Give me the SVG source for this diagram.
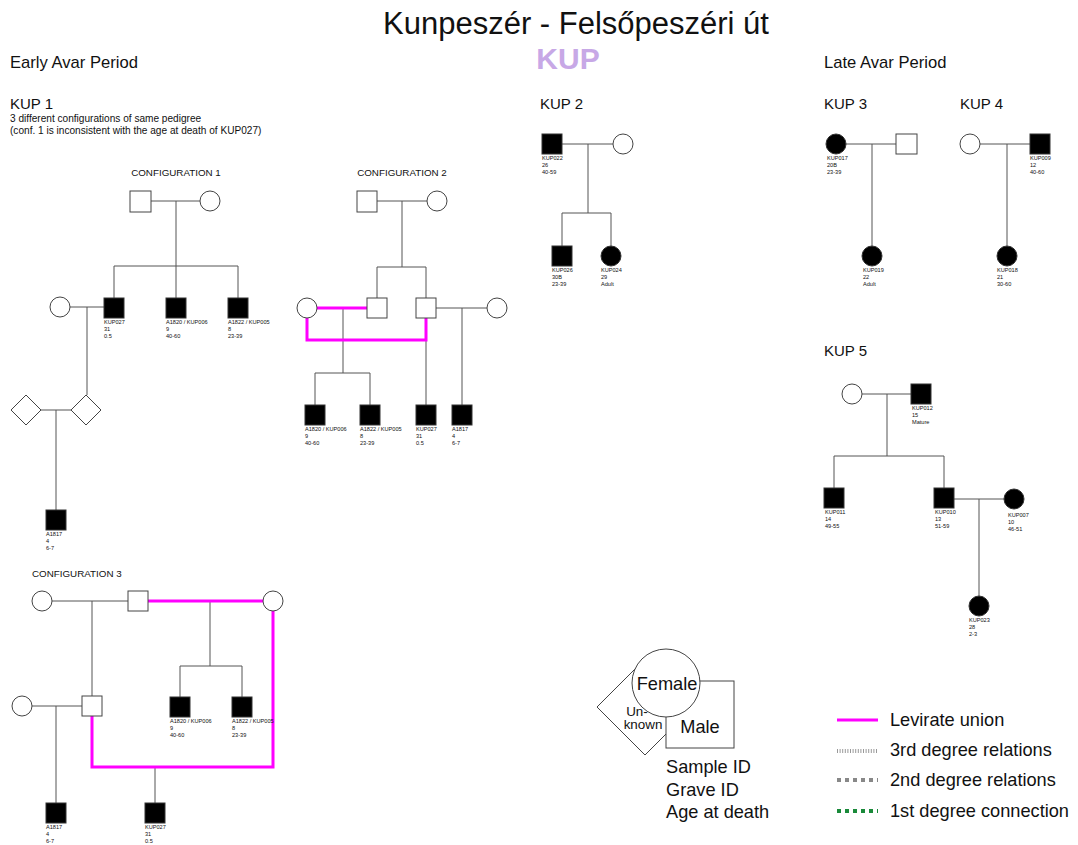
<svg xmlns="http://www.w3.org/2000/svg" width="1078" height="845" viewBox="0 0 1078 845">
<style>
text{font-family:"Liberation Sans",Arial,sans-serif;fill:#111}
.t{font-size:31px}
.kup{font-size:30px;font-weight:bold;fill:#c7a8e6}
.h{font-size:16.6px}
.s{font-size:15px}
.n{font-size:10.1px}
.c{font-size:9.8px}
.l{font-size:5.6px}
.lg{font-size:18.2px}
.lu{font-size:13.4px}
.ln{stroke:#555;stroke-width:1;fill:none}
.lev{stroke:#f0f;stroke-width:3;fill:none}
.o{fill:#fff;stroke:#444;stroke-width:1}
.f{fill:#000;stroke:#333;stroke-width:1}
</style>
<rect width="1078" height="845" fill="#fff"/>
<text class="t" x="576" y="34" text-anchor="middle">Kunpeszér - Felsőpeszéri út</text>
<text class="kup" x="568" y="69" text-anchor="middle">KUP</text>
<text class="h" x="10" y="68">Early Avar Period</text>
<text class="h" x="824" y="68">Late Avar Period</text>
<text class="s" x="10" y="109">KUP 1</text>
<text class="n" x="10" y="122">3 different configurations of same pedigree</text>
<text class="n" x="10" y="134">(conf. 1 is inconsistent with the age at death of KUP027)</text>
<text class="s" x="540" y="109">KUP 2</text>
<text class="s" x="824" y="109">KUP 3</text>
<text class="s" x="960" y="109">KUP 4</text>
<text class="s" x="824" y="356">KUP 5</text>
<text class="c" x="176" y="176" text-anchor="middle">CONFIGURATION 1</text>
<text class="c" x="402" y="176" text-anchor="middle">CONFIGURATION 2</text>
<text class="c" x="32" y="577">CONFIGURATION 3</text>

<g id="connectors">
<!-- config 1 -->
<path class="ln" d="M151 201H200M176 201V266M114 266H238M114 266V298M176 266V298M238 266V298"/>
<path class="ln" d="M70 307H104M87 307V395M41 410H71M56 410V510"/>
<!-- config 2 -->
<path class="ln" d="M377 201H427M402 201V267M377 267H426M377 267V298M426 267V298"/>
<path class="ln" d="M436 308H487M462 308V405M343 308V373M315 373H370M315 373V405M370 373V405M426 340V405"/>
<path class="lev" d="M317 308H367M307 318V340H426V318"/>
<!-- config 3 -->
<path class="ln" d="M52 601H128M92 601V696M210 601V666M180 666H242M180 666V697M242 666V697M32 706H82M56 706V803M155 767V803"/>
<path class="lev" d="M148 601H263M273 611V767H92V716"/>
<!-- KUP 2 -->
<path class="ln" d="M562 144H613M588 144V213M562 213H611M562 213V246M611 213V246"/>
<!-- KUP 3 -->
<path class="ln" d="M846 144H896M872 144V246"/>
<!-- KUP 4 -->
<path class="ln" d="M980 144H1030M1007 144V246"/>
<!-- KUP 5 -->
<path class="ln" d="M862 394H911M887 394V456M834 456H944M834 456V488M944 456V488M954 499H1004M979 499V596"/>
</g>

<!-- Config 1 nodes -->
<g id="c1-father"><rect class="o" x="130" y="191" width="21" height="21"/></g>
<g id="c1-mother"><circle class="o" cx="210" cy="201" r="10"/></g>
<g id="c1-kup027"><rect class="f" x="104" y="298" width="20" height="20"/><text class="l" x="104" y="324">KUP027</text><text class="l" x="104" y="331">31</text><text class="l" x="104" y="338">0.5</text></g>
<g id="c1-a1820"><rect class="f" x="166" y="298" width="20" height="20"/><text class="l" x="166" y="324">A1820 / KUP006</text><text class="l" x="166" y="331">9</text><text class="l" x="166" y="338">40-60</text></g>
<g id="c1-a1822"><rect class="f" x="228" y="298" width="20" height="20"/><text class="l" x="228" y="324">A1822 / KUP005</text><text class="l" x="228" y="331">8</text><text class="l" x="228" y="338">23-39</text></g>
<g id="c1-wife"><circle class="o" cx="60" cy="307" r="10"/></g>
<g id="c1-u1"><polygon class="o" points="26,395 41,410 26,425 11,410"/></g>
<g id="c1-u2"><polygon class="o" points="86,395 101,410 86,425 71,410"/></g>
<g id="c1-a1817"><rect class="f" x="46" y="510" width="20" height="20"/><text class="l" x="46" y="536">A1817</text><text class="l" x="46" y="543">4</text><text class="l" x="46" y="550">6-7</text></g>

<!-- Config 2 nodes -->
<g id="c2-father"><rect class="o" x="357" y="191" width="20" height="21"/></g>
<g id="c2-mother"><circle class="o" cx="437" cy="201" r="10"/></g>
<g id="c2-son1"><rect class="o" x="367" y="298" width="20" height="20"/></g>
<g id="c2-son2"><rect class="o" x="416" y="298" width="20" height="20"/></g>
<g id="c2-widow"><circle class="o" cx="307" cy="308" r="10"/></g>
<g id="c2-wife2"><circle class="o" cx="497" cy="308" r="10"/></g>
<g id="c2-a1820"><rect class="f" x="305" y="405" width="20" height="20"/><text class="l" x="305" y="431">A1820 / KUP006</text><text class="l" x="305" y="438">9</text><text class="l" x="305" y="445">40-60</text></g>
<g id="c2-a1822"><rect class="f" x="360" y="405" width="20" height="20"/><text class="l" x="360" y="431">A1822 / KUP005</text><text class="l" x="360" y="438">8</text><text class="l" x="360" y="445">23-39</text></g>
<g id="c2-kup027"><rect class="f" x="416" y="405" width="20" height="20"/><text class="l" x="416" y="431">KUP027</text><text class="l" x="416" y="438">31</text><text class="l" x="416" y="445">0.5</text></g>
<g id="c2-a1817"><rect class="f" x="452" y="405" width="20" height="20"/><text class="l" x="452" y="431">A1817</text><text class="l" x="452" y="438">4</text><text class="l" x="452" y="445">6-7</text></g>

<!-- Config 3 nodes -->
<g id="c3-mother"><circle class="o" cx="42" cy="601" r="10"/></g>
<g id="c3-father"><rect class="o" x="128" y="591" width="20" height="20"/></g>
<g id="c3-widow"><circle class="o" cx="273" cy="601" r="10"/></g>
<g id="c3-son"><rect class="o" x="82" y="696" width="20" height="20"/></g>
<g id="c3-wife"><circle class="o" cx="22" cy="706" r="10"/></g>
<g id="c3-a1820"><rect class="f" x="170" y="697" width="20" height="20"/><text class="l" x="170" y="723">A1820 / KUP006</text><text class="l" x="170" y="730">9</text><text class="l" x="170" y="737">40-60</text></g>
<g id="c3-a1822"><rect class="f" x="232" y="697" width="20" height="20"/><text class="l" x="232" y="723">A1822 / KUP005</text><text class="l" x="232" y="730">8</text><text class="l" x="232" y="737">23-39</text></g>
<g id="c3-a1817"><rect class="f" x="46" y="803" width="20" height="20"/><text class="l" x="46" y="829">A1817</text><text class="l" x="46" y="836">4</text><text class="l" x="46" y="843">6-7</text></g>
<g id="c3-kup027"><rect class="f" x="145" y="803" width="20" height="20"/><text class="l" x="145" y="829">KUP027</text><text class="l" x="145" y="836">31</text><text class="l" x="145" y="843">0.5</text></g>

<!-- KUP 2 -->
<g id="kup022"><rect class="f" x="542" y="134" width="20" height="20"/><text class="l" x="542" y="160">KUP022</text><text class="l" x="542" y="167">26</text><text class="l" x="542" y="174">40-59</text></g>
<g id="k2-mother"><circle class="o" cx="623" cy="144" r="10"/></g>
<g id="kup026"><rect class="f" x="552" y="246" width="20" height="20"/><text class="l" x="552" y="272">KUP026</text><text class="l" x="552" y="279">30B</text><text class="l" x="552" y="286">23-39</text></g>
<g id="kup024"><circle class="f" cx="611" cy="256" r="10"/><text class="l" x="601" y="272">KUP024</text><text class="l" x="601" y="279">29</text><text class="l" x="601" y="286">Adult</text></g>

<!-- KUP 3 -->
<g id="kup017"><circle class="f" cx="836" cy="144" r="10"/><text class="l" x="827" y="160">KUP017</text><text class="l" x="827" y="167">20B</text><text class="l" x="827" y="174">23-39</text></g>
<g id="k3-father"><rect class="o" x="896" y="134" width="21" height="20"/></g>
<g id="kup019"><circle class="f" cx="872" cy="256" r="10"/><text class="l" x="863" y="272">KUP019</text><text class="l" x="863" y="279">22</text><text class="l" x="863" y="286">Adult</text></g>

<!-- KUP 4 -->
<g id="k4-mother"><circle class="o" cx="970" cy="144" r="10"/></g>
<g id="kup009"><rect class="f" x="1030" y="134" width="20" height="20"/><text class="l" x="1030" y="160">KUP009</text><text class="l" x="1030" y="167">12</text><text class="l" x="1030" y="174">40-60</text></g>
<g id="kup018"><circle class="f" cx="1007" cy="256" r="10"/><text class="l" x="997" y="272">KUP018</text><text class="l" x="997" y="279">21</text><text class="l" x="997" y="286">30-60</text></g>

<!-- KUP 5 -->
<g id="k5-mother"><circle class="o" cx="852" cy="394" r="10"/></g>
<g id="kup012"><rect class="f" x="911" y="384" width="20" height="20"/><text class="l" x="912" y="410">KUP012</text><text class="l" x="912" y="417">15</text><text class="l" x="912" y="424">Mature</text></g>
<g id="kup011"><rect class="f" x="824" y="488" width="20" height="20"/><text class="l" x="825" y="514">KUP011</text><text class="l" x="825" y="521">14</text><text class="l" x="825" y="528">49-55</text></g>
<g id="kup010"><rect class="f" x="934" y="488" width="20" height="20"/><text class="l" x="935" y="514">KUP010</text><text class="l" x="935" y="521">13</text><text class="l" x="935" y="528">51-59</text></g>
<g id="kup007"><circle class="f" cx="1014" cy="499" r="10"/><text class="l" x="1008" y="517">KUP007</text><text class="l" x="1008" y="524">10</text><text class="l" x="1008" y="531">46-51</text></g>
<g id="kup023"><circle class="f" cx="979" cy="606" r="10"/><text class="l" x="969" y="622">KUP023</text><text class="l" x="969" y="629">28</text><text class="l" x="969" y="636">2-3</text></g>

<!-- Legend -->
<g id="legend-shapes">
<polygon class="o" points="645,659 693,707 645,755 597,707"/>
<rect class="o" x="666" y="681" width="68" height="67"/>
<circle class="o" cx="666" cy="683" r="34"/>
<text class="lg" x="667" y="690" text-anchor="middle">Female</text>
<text class="lg" x="700" y="733" text-anchor="middle">Male</text>
<text class="lu" x="637" y="716" text-anchor="middle">Un-</text>
<text class="lu" x="643" y="729" text-anchor="middle">known</text>
<text class="lg" x="666" y="773">Sample ID</text>
<text class="lg" x="666" y="796">Grave ID</text>
<text class="lg" x="666" y="818">Age at death</text>
</g>
<g id="legend-lines">
<line x1="837" y1="720" x2="878" y2="720" stroke="#f0f" stroke-width="3"/>
<text class="lg" x="890" y="726">Levirate union</text>
<line x1="837" y1="751" x2="878" y2="751" stroke="#999" stroke-width="4" stroke-dasharray="1 1.6"/>
<text class="lg" x="890" y="756">3rd degree relations</text>
<line x1="837" y1="780" x2="878" y2="780" stroke="#888" stroke-width="4" stroke-dasharray="4 4"/>
<text class="lg" x="890" y="786">2nd degree relations</text>
<line x1="837" y1="811" x2="878" y2="811" stroke="#1a8a3a" stroke-width="4" stroke-dasharray="4 4"/>
<text class="lg" x="890" y="817">1st degree connection</text>
</g>
</svg>
